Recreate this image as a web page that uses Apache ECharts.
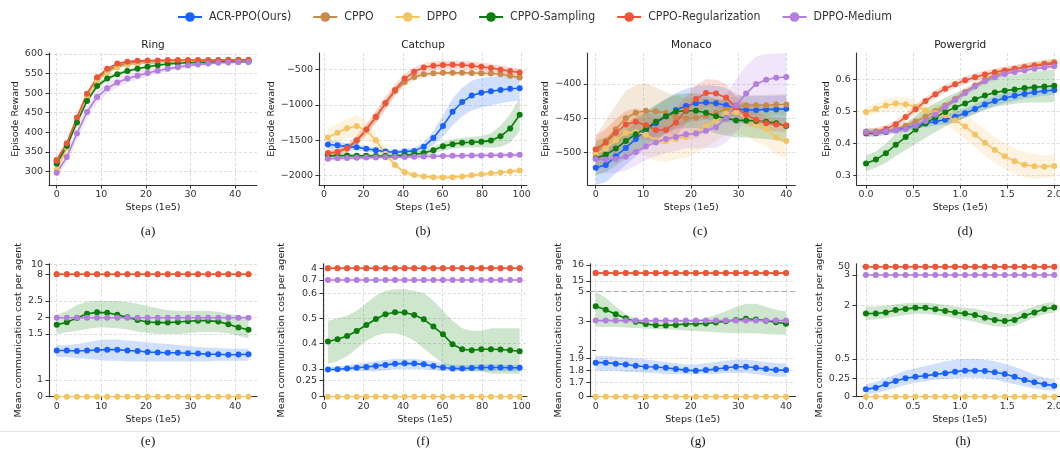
<!DOCTYPE html>
<html lang="en">
<head>
<meta charset="UTF-8" />
<title>Reward and communication cost</title>
<script src="https://cdn.jsdelivr.net/npm/echarts@6.0.0/dist/echarts.min.js"></script>
<style>html,body{margin:0;background:#fff}</style>
</head>
<body>
<div id="main" style="width:1060px;height:455px"></div>
<script>
// methods, in legend order
const methods = ['ACR-PPO(Ours)', 'CPPO', 'DPPO', 'CPPO-Sampling', 'CPPO-Regularization', 'DPPO-Medium'];
const colors = ['#1a62ff', '#c98a4b', '#f5c462', '#0b7d0b', '#ee5538', '#b47de0'];

// x steps (1e5)
const ringSteps = [0,2.26,4.53,6.79,9.05,11.32,13.58,15.84,18.11,20.37,22.63,24.89,27.16,29.42,31.68,33.95,36.21,38.47,40.74,43];
const catchupSteps = [2,6.85,11.7,16.55,21.4,26.25,31.1,35.95,40.8,45.65,50.5,55.35,60.2,65.05,69.9,74.75,79.6,84.45,89.3,94.15,99];
const monacoSteps = [0,2.11,4.21,6.32,8.42,10.53,12.63,14.74,16.84,18.95,21.05,23.16,25.26,27.37,29.47,31.58,33.68,35.79,37.89,40];
const powerSteps = [0,0.105,0.211,0.316,0.421,0.526,0.632,0.737,0.842,0.947,1.053,1.158,1.263,1.368,1.474,1.579,1.684,1.789,1.895,2];

// tick labels
const ringXTicks = [0, 10, 20, 30, 40];
const catchupXTicks = [0, 20, 40, 60, 80, 100];
const monacoXTicks = [0, 10, 20, 30, 40];
const powerXTicks = [0, 0.5, 1, 1.5, 2];
const ringYTicks = [300, 350, 400, 450, 500, 550, 600];
const catchupYTicks = [-2000, -1500, -1000, -500];
const monacoYTicks = [-500, -450, -400];
const powerYTicks = [0.3, 0.4, 0.5, 0.6];
// cost axes are uneven: [value, height in px above the x axis]
const costTicksRing = [[0,0],[1,16.7],[1.5,62.7],[2,79],[2.5,95.7],[8,122.4],[10,132.4]];
const costTicksCatchup = [[0,0],[0.25,16],[0.3,27.7],[0.4,53.4],[0.5,78.4],[0.6,103.4],[0.7,116.7],[4,128.4]];
const costTicksMonaco = [[0,0],[1.7,14],[1.8,26],[1.9,38.4],[2,46],[3,75],[5,105],[15,115.7],[16,131.7]];
const costTicksPower = [[0,0],[0.25,18.4],[0.5,37.7],[2,91],[3,121.7],[50,130]];

// Ring episode reward
const ringAcr = [325,368,432,495,535,555,568,573,575,577,578,579,580,580,581,581,581,582,582,582];
const ringCppo = [330,370,435,495,535,558,570,576,579,580,581,582,582,582,583,583,583,583,583,583];
const ringDppo = [305,360,430,492,530,552,565,572,575,577,578,579,579,580,580,580,581,581,581,581];
const ringSamp = [320,365,425,480,518,537,548,556,562,567,571,574,576,577,578,579,579,580,580,580];
const ringReg = [328,372,438,498,540,562,575,580,582,583,583,584,584,584,584,584,584,585,585,585];
const ringMed = [297,337,397,452,490,512,527,537,544,551,557,562,566,570,573,575,577,578,579,579];
const ringAcrBand = [8,6,5,5,4,3,3,2,2,2,2,2,2,2,2,2,2,2,2,2];
const ringCppoBand = [8,6,5,5,4,3,3,2,2,2,2,2,2,2,2,2,2,2,2,2];
const ringDppoBand = [10,8,6,5,4,3,3,2,2,2,2,2,2,2,2,2,2,2,2,2];
const ringSampBand = [8,8,8,8,7,6,5,5,4,4,3,3,3,3,2,2,2,2,2,2];
const ringRegBand = [8,6,5,5,4,3,3,2,2,2,2,2,2,2,2,2,2,2,2,2];
const ringMedBand = [12,14,16,16,15,14,12,11,10,9,8,7,6,5,5,4,4,4,3,3];

// Catchup episode reward
const catchupAcr = [-1560,-1570,-1590,-1600,-1620,-1640,-1660,-1670,-1660,-1650,-1590,-1470,-1300,-1100,-960,-870,-830,-810,-790,-775,-768];
const catchupCppo = [-1690,-1670,-1620,-1510,-1360,-1180,-985,-805,-680,-610,-570,-555,-550,-550,-550,-552,-555,-560,-570,-590,-615];
const catchupDppo = [-1460,-1395,-1330,-1300,-1360,-1500,-1690,-1850,-1950,-1990,-2010,-2020,-2025,-2020,-2010,-1995,-1980,-1965,-1955,-1940,-1925];
const catchupSamp = [-1720,-1718,-1715,-1718,-1720,-1722,-1722,-1718,-1712,-1700,-1680,-1640,-1585,-1555,-1535,-1528,-1520,-1505,-1445,-1335,-1140];
const catchupReg = [-1680,-1665,-1610,-1500,-1350,-1170,-975,-790,-630,-535,-475,-450,-440,-435,-440,-450,-465,-480,-505,-525,-545];
const catchupMed = [-1760,-1755,-1750,-1748,-1745,-1742,-1740,-1738,-1735,-1732,-1728,-1725,-1722,-1720,-1718,-1716,-1714,-1712,-1710,-1708,-1705];
const catchupAcrBand = [60,55,50,45,40,40,40,40,40,45,60,100,150,190,200,210,210,200,190,180,170];
const catchupCppoBand = [50,50,50,50,60,70,70,70,60,50,40,35,35,35,35,35,35,35,35,35,35];
const catchupDppoBand = [120,130,140,150,130,100,70,50,40,30,30,25,25,25,25,25,25,25,25,25,25];
const catchupSampBand = [30,30,30,30,30,30,30,30,30,35,40,50,60,65,70,75,80,100,150,200,230];
const catchupRegBand = [50,50,60,70,80,90,90,80,70,60,60,60,60,60,60,60,60,60,60,55,55];
const catchupMedBand = [30,30,30,30,30,30,30,30,30,30,30,30,30,30,30,30,30,30,30,30,30];

// Monaco episode reward
const monacoAcr = [-522,-518,-505,-493,-480,-467,-457,-447,-438,-432,-428,-427,-428,-431,-436,-438,-438,-437,-437,-436];
const monacoCppo = [-501,-483,-466,-450,-442,-439,-440,-442,-448,-450,-449,-446,-442,-437,-433,-431,-431,-431,-430,-430];
const monacoDppo = [-503,-494,-482,-471,-470,-474,-482,-483,-480,-477,-471,-462,-453,-443,-441,-450,-460,-466,-478,-483];
const monacoSamp = [-508,-503,-494,-483,-473,-465,-455,-447,-440,-439,-439,-442,-447,-450,-453,-453,-454,-455,-457,-461];
const monacoReg = [-495,-485,-471,-459,-455,-460,-467,-467,-456,-438,-422,-413,-414,-420,-434,-445,-452,-457,-459,-460];
const monacoMed = [-509,-510,-509,-506,-499,-491,-485,-480,-477,-473,-472,-468,-463,-450,-431,-414,-400,-394,-391,-390];
const monacoAcrBand = [25,25,25,25,25,25,25,25,25,25,25,25,25,25,20,20,20,20,20,20];
const monacoCppoBand = [25,30,35,40,40,40,35,30,30,30,30,25,20,15,15,15,15,15,15,15];
const monacoDppoBand = [20,25,30,30,30,30,30,30,30,30,30,30,30,30,30,25,25,25,25,25];
const monacoSampBand = [25,25,25,25,25,25,25,25,25,25,25,25,25,25,25,25,25,25,25,25];
const monacoRegBand = [20,20,20,20,20,20,20,20,20,20,20,20,20,20,15,15,12,10,10,10];
const monacoMedBand = [20,20,20,20,20,20,20,20,20,20,22,25,30,35,38,40,40,38,35,35];

// Powergrid episode reward
const powerAcr = [0.431,0.432,0.436,0.442,0.449,0.456,0.462,0.468,0.474,0.483,0.494,0.507,0.521,0.532,0.541,0.548,0.554,0.559,0.563,0.566];
const powerCppo = [0.435,0.434,0.438,0.445,0.455,0.468,0.483,0.500,0.518,0.538,0.560,0.580,0.598,0.612,0.622,0.630,0.637,0.643,0.648,0.652];
const powerDppo = [0.498,0.508,0.518,0.524,0.522,0.514,0.503,0.495,0.488,0.472,0.453,0.428,0.402,0.380,0.360,0.345,0.334,0.329,0.328,0.330];
const powerSamp = [0.338,0.350,0.370,0.396,0.420,0.443,0.463,0.481,0.498,0.512,0.524,0.537,0.549,0.558,0.564,0.568,0.572,0.575,0.577,0.579];
const powerReg = [0.435,0.437,0.445,0.460,0.482,0.506,0.532,0.553,0.570,0.584,0.596,0.606,0.614,0.621,0.627,0.632,0.637,0.641,0.645,0.648];
const powerMed = [0.437,0.436,0.438,0.440,0.445,0.455,0.470,0.490,0.513,0.535,0.557,0.577,0.593,0.606,0.616,0.622,0.627,0.632,0.636,0.640];
const powerAcrBand = [0.01,0.01,0.01,0.01,0.01,0.01,0.012,0.012,0.015,0.015,0.015,0.015,0.015,0.015,0.015,0.015,0.015,0.015,0.015,0.015];
const powerCppoBand = [0.012,0.012,0.012,0.012,0.012,0.012,0.012,0.012,0.012,0.012,0.012,0.012,0.012,0.012,0.012,0.012,0.012,0.012,0.012,0.012];
const powerDppoBand = [0.015,0.015,0.02,0.02,0.02,0.02,0.02,0.025,0.03,0.035,0.04,0.04,0.04,0.04,0.04,0.04,0.04,0.04,0.035,0.035];
const powerSampBand = [0.025,0.025,0.03,0.035,0.04,0.045,0.045,0.045,0.045,0.045,0.045,0.045,0.045,0.045,0.045,0.045,0.045,0.048,0.05,0.05];
const powerRegBand = [0.012,0.012,0.012,0.012,0.012,0.012,0.012,0.012,0.012,0.012,0.012,0.012,0.012,0.012,0.012,0.012,0.012,0.012,0.012,0.012];
const powerMedBand = [0.008,0.008,0.008,0.008,0.008,0.008,0.008,0.008,0.008,0.008,0.008,0.008,0.008,0.008,0.008,0.008,0.008,0.008,0.008,0.008];

// Ring communication cost
const costRingAcr = [1.32,1.32,1.315,1.32,1.325,1.33,1.33,1.32,1.315,1.305,1.30,1.297,1.297,1.29,1.287,1.28,1.28,1.275,1.277,1.28];
const costRingAcrLo = [1.25,1.25,1.24,1.23,1.22,1.21,1.21,1.2,1.2,1.2,1.2,1.2,1.2,1.2,1.2,1.2,1.21,1.21,1.21,1.21];
const costRingAcrHi = [1.38,1.38,1.39,1.41,1.43,1.44,1.44,1.43,1.42,1.41,1.4,1.39,1.38,1.37,1.36,1.35,1.35,1.34,1.34,1.34];
const costRingSamp = [1.78,1.86,1.99,2.12,2.16,2.15,2.09,2.01,1.93,1.87,1.85,1.85,1.87,1.89,1.91,1.91,1.88,1.80,1.70,1.63];
const costRingSampLo = [1.5,1.55,1.6,1.65,1.7,1.7,1.68,1.64,1.58,1.53,1.5,1.5,1.5,1.52,1.55,1.56,1.55,1.52,1.48,1.45];
const costRingSampHi = [2.08,2.2,2.38,2.48,2.52,2.52,2.5,2.47,2.42,2.35,2.28,2.22,2.2,2.2,2.2,2.2,2.18,2.12,2.06,2.02];
const costRingCppo = [8,8,8,8,8,8,8,8,8,8,8,8,8,8,8,8,8,8,8,8];
const costRingReg = [8,8,8,8,8,8,8,8,8,8,8,8,8,8,8,8,8,8,8,8];
const costRingMed = [2,2,2,2,2,2,2,2,2,2,2,2,2,2,2,2,2,2,2,2];
const costRingDppo = [0,0,0,0,0,0,0,0,0,0,0,0,0,0,0,0,0,0,0,0];

// Catchup communication cost
const costCatchupAcr = [0.298,0.299,0.302,0.305,0.308,0.312,0.316,0.320,0.322,0.321,0.318,0.312,0.306,0.302,0.302,0.304,0.306,0.306,0.306,0.305,0.305];
const costCatchupAcrLo = [0.29,0.29,0.29,0.29,0.29,0.29,0.295,0.3,0.3,0.3,0.3,0.295,0.29,0.29,0.29,0.29,0.29,0.29,0.29,0.29,0.29];
const costCatchupAcrHi = [0.305,0.31,0.315,0.32,0.325,0.33,0.335,0.34,0.34,0.34,0.335,0.33,0.322,0.317,0.315,0.317,0.318,0.318,0.318,0.317,0.317];
const costCatchupSamp = [0.407,0.416,0.429,0.449,0.473,0.497,0.516,0.524,0.523,0.513,0.496,0.467,0.436,0.396,0.377,0.373,0.377,0.377,0.376,0.373,0.369];
const costCatchupSampLo = [0.32,0.33,0.35,0.38,0.41,0.43,0.44,0.44,0.43,0.41,0.38,0.35,0.32,0.3,0.29,0.29,0.29,0.28,0.28,0.28,0.28];
const costCatchupSampHi = [0.49,0.5,0.51,0.53,0.56,0.59,0.62,0.63,0.63,0.62,0.6,0.57,0.53,0.49,0.46,0.45,0.45,0.46,0.46,0.46,0.46];
const costCatchupCppo = [4,4,4,4,4,4,4,4,4,4,4,4,4,4,4,4,4,4,4,4,4];
const costCatchupReg = [4,4,4,4,4,4,4,4,4,4,4,4,4,4,4,4,4,4,4,4,4];
const costCatchupMed = [0.7,0.7,0.7,0.7,0.7,0.7,0.7,0.7,0.7,0.7,0.7,0.7,0.7,0.7,0.7,0.7,0.7,0.7,0.7,0.7,0.7];
const costCatchupDppo = [0,0,0,0,0,0,0,0,0,0,0,0,0,0,0,0,0,0,0,0,0];

// Monaco communication cost
const costMonacoAcr = [1.865,1.865,1.857,1.85,1.84,1.832,1.83,1.824,1.814,1.805,1.80,1.805,1.814,1.824,1.832,1.832,1.824,1.814,1.805,1.805];
const costMonacoAcrLo = [1.80,1.80,1.80,1.79,1.79,1.78,1.78,1.77,1.77,1.77,1.77,1.77,1.77,1.78,1.78,1.78,1.77,1.76,1.75,1.75];
const costMonacoAcrHi = [1.93,1.93,1.92,1.91,1.9,1.89,1.88,1.87,1.86,1.85,1.85,1.86,1.87,1.88,1.89,1.89,1.88,1.87,1.86,1.86];
const costMonacoSamp = [4.03,3.80,3.50,3.23,3.0,2.92,2.88,2.87,2.89,2.92,2.93,2.94,2.97,3.03,3.12,3.2,3.15,3.07,2.98,2.93];
const costMonacoSampLo = [2.82,2.82,2.82,2.8,2.78,2.76,2.75,2.74,2.72,2.7,2.68,2.66,2.64,2.62,2.6,2.6,2.6,2.58,2.56,2.55];
const costMonacoSampHi = [5.0,4.6,4.0,3.5,3.2,3.1,3.05,3.05,3.08,3.12,3.15,3.25,3.45,3.7,4.0,4.2,4.2,4.0,3.8,3.7];
const costMonacoCppo = [15.5,15.5,15.5,15.5,15.5,15.5,15.5,15.5,15.5,15.5,15.5,15.5,15.5,15.5,15.5,15.5,15.5,15.5,15.5,15.5];
const costMonacoReg = [15.5,15.5,15.5,15.5,15.5,15.5,15.5,15.5,15.5,15.5,15.5,15.5,15.5,15.5,15.5,15.5,15.5,15.5,15.5,15.5];
const costMonacoMed = [3.08,3.08,3.08,3.08,3.08,3.08,3.08,3.08,3.08,3.08,3.08,3.08,3.08,3.08,3.08,3.08,3.08,3.08,3.08,3.08];
const costMonacoDppo = [0,0,0,0,0,0,0,0,0,0,0,0,0,0,0,0,0,0,0,0];

// Powergrid communication cost
const costPowerAcr = [0.10,0.123,0.168,0.214,0.25,0.27,0.284,0.301,0.315,0.336,0.349,0.349,0.345,0.328,0.306,0.27,0.227,0.195,0.168,0.15];
const costPowerAcrLo = [0.03,0.05,0.08,0.12,0.16,0.19,0.21,0.23,0.24,0.25,0.26,0.26,0.25,0.23,0.2,0.17,0.14,0.11,0.09,0.08];
const costPowerAcrHi = [0.17,0.2,0.25,0.3,0.35,0.38,0.41,0.44,0.47,0.49,0.5,0.5,0.49,0.47,0.44,0.4,0.35,0.3,0.26,0.23];
const costPowerSamp = [1.78,1.78,1.81,1.88,1.91,1.94,1.94,1.90,1.85,1.81,1.78,1.74,1.66,1.60,1.57,1.60,1.72,1.81,1.91,1.95];
const costPowerSampLo = [1.6,1.62,1.65,1.7,1.74,1.77,1.77,1.74,1.7,1.65,1.6,1.55,1.48,1.42,1.4,1.43,1.55,1.66,1.76,1.8];
const costPowerSampHi = [1.97,1.98,2.0,2.05,2.08,2.1,2.1,2.07,2.02,1.98,1.95,1.92,1.86,1.8,1.76,1.78,1.9,1.98,2.08,2.12];
const costPowerCppo = [50,50,50,50,50,50,50,50,50,50,50,50,50,50,50,50,50,50,50,50];
const costPowerReg = [50,50,50,50,50,50,50,50,50,50,50,50,50,50,50,50,50,50,50,50];
const costPowerMed = [3,3,3,3,3,3,3,3,3,3,3,3,3,3,3,3,3,3,3,3];
const costPowerDppo = [0,0,0,0,0,0,0,0,0,0,0,0,0,0,0,0,0,0,0,0];

// piecewise-linear map of a cost value onto the uneven axis
function warp(knots, v) {
  for (let i = 1; i < knots.length; i++) {
    if (v <= knots[i][0] || i === knots.length - 1) {
      const [v0, p0] = knots[i - 1], [v1, p1] = knots[i];
      return p0 + (v - v0) * (p1 - p0) / (v1 - v0);
    }
  }
}
const minus = v => String(v).replace('-', '\u2212');
const oneDec = v => v.toFixed(1);

const TOP = 53, TOPH = 132, BOT = 263.7, BOTH = 133;
const panels = [
  { box: [49, TOP, 208, TOPH], x: ringSteps, xr: [-1.73, 44.9], xt: ringXTicks, xf: String,
    yr: [266, 602], yt: ringYTicks, yf: String, gap: 28.5, title: 'Ring',
    means: [ringAcr, ringCppo, ringDppo, ringSamp, ringReg, ringMed],
    bands: [ringAcrBand, ringCppoBand, ringDppoBand, ringSampBand, ringRegBand, ringMedBand] },
  { box: [319, TOP, 208, TOPH], x: catchupSteps, xr: [-2.5, 102.7], xt: catchupXTicks, xf: String,
    yr: [-2131, -270], yt: catchupYTicks, yf: minus, gap: 42, title: 'Catchup',
    means: [catchupAcr, catchupCppo, catchupDppo, catchupSamp, catchupReg, catchupMed],
    bands: [catchupAcrBand, catchupCppoBand, catchupDppoBand, catchupSampBand, catchupRegBand, catchupMedBand] },
  { box: [587.3, TOP, 208, TOPH], x: monacoSteps, xr: [-1.77, 41.9], xt: monacoXTicks, xf: String,
    yr: [-547, -355], yt: monacoYTicks, yf: minus, gap: 36.5, title: 'Monaco',
    means: [monacoAcr, monacoCppo, monacoDppo, monacoSamp, monacoReg, monacoMed],
    bands: [monacoAcrBand, monacoCppoBand, monacoDppoBand, monacoSampBand, monacoRegBand, monacoMedBand] },
  { box: [856.7, TOP, 207, TOPH], x: powerSteps, xr: [-0.099, 2.1], xt: powerXTicks, xf: oneDec,
    yr: [0.271, 0.681], yt: powerYTicks, yf: oneDec, gap: 24.5, title: 'Powergrid',
    means: [powerAcr, powerCppo, powerDppo, powerSamp, powerReg, powerMed],
    bands: [powerAcrBand, powerCppoBand, powerDppoBand, powerSampBand, powerRegBand, powerMedBand] },
  { box: [49, BOT, 208, BOTH], x: ringSteps, xr: [-1.73, 44.9], xt: ringXTicks, xf: String,
    knots: costTicksRing, gap: 25,
    means: [costRingAcr, costRingCppo, costRingDppo, costRingSamp, costRingReg, costRingMed],
    lo: [costRingAcrLo, null, null, costRingSampLo, null, null],
    hi: [costRingAcrHi, null, null, costRingSampHi, null, null] },
  { box: [323, BOT, 204, BOTH], x: catchupSteps, xr: [-0.5, 102.7], xt: catchupXTicks, xf: String,
    knots: costTicksCatchup, gap: 36,
    means: [costCatchupAcr, costCatchupCppo, costCatchupDppo, costCatchupSamp, costCatchupReg, costCatchupMed],
    lo: [costCatchupAcrLo, null, null, costCatchupSampLo, null, null],
    hi: [costCatchupAcrHi, null, null, costCatchupSampHi, null, null] },
  { box: [590, BOT, 205.5, BOTH], x: monacoSteps, xr: [-1.2, 42], xt: monacoXTicks, xf: String,
    knots: costTicksMonaco, gap: 26.5, dashAt: 5,
    means: [costMonacoAcr, costMonacoCppo, costMonacoDppo, costMonacoSamp, costMonacoReg, costMonacoMed],
    lo: [costMonacoAcrLo, null, null, costMonacoSampLo, null, null],
    hi: [costMonacoAcrHi, null, null, costMonacoSampHi, null, null] },
  { box: [856, BOT, 207.7, BOTH], x: powerSteps, xr: [-0.105, 2.1], xt: powerXTicks, xf: oneDec,
    knots: costTicksPower, gap: 29.5,
    means: [costPowerAcr, costPowerCppo, costPowerDppo, costPowerSamp, costPowerReg, costPowerMed],
    lo: [costPowerAcrLo, null, null, costPowerSampLo, null, null],
    hi: [costPowerAcrHi, null, null, costPowerSampHi, null, null] }
];

const FONT = 'DejaVu Sans';
const axisCommon = {
  axisLine: { onZero: false, lineStyle: { color: '#333', width: 1.1 } },
  axisTick: { length: 3.5, lineStyle: { color: '#333', width: 1 } },
  splitLine: { show: true, lineStyle: { color: '#d6d6d6', type: [3, 2], width: 0.8 } },
  nameTextStyle: { color: '#222', fontFamily: FONT, fontSize: 9.5 }
};
const yLabelStyle = { hideOverlap: false, color: '#333', fontFamily: FONT, fontSize: 9.5, margin: 6 };

const grid = [], xAxis = [], yAxis = [], series = [], graphic = [];
const overlayAxes = [];

panels.forEach((p, k) => {
  const cost = !!p.knots;
  const ty = cost ? (v => warp(p.knots, v)) : (v => v);
  grid.push({ left: p.box[0], top: p.box[1], width: p.box[2], height: p.box[3], outerBoundsMode: 'none', containLabel: false });
  xAxis.push(Object.assign({}, axisCommon, {
    gridIndex: k, type: 'value', min: p.xr[0], max: p.xr[1],
    name: 'Steps (1e5)', nameLocation: 'middle', nameGap: 17.5,
    axisTick: Object.assign({}, axisCommon.axisTick, { customValues: p.xt }),
    axisLabel: { customValues: p.xt, formatter: p.xf, hideOverlap: false, color: '#333', fontFamily: FONT, fontSize: 9.5, margin: 5 }
  }));
  let yt, yf, yr, crowded = [];
  if (cost) {
    // labels packed closer than ~10px get their own overlay axis so none is dropped
    yt = [];
    p.knots.forEach((kn, i) => {
      if (i > 0 && kn[1] - p.knots[i - 1][1] < 10 && !crowded.includes(p.knots[i - 1][1])) crowded.push(kn[1]);
      else yt.push(kn[1]);
    });
    yf = v => { const kn = p.knots.find(q => Math.abs(q[1] - v) < 1e-6); return kn ? String(kn[0]) : ''; };
    yr = [0, BOTH];
  } else {
    yt = p.yt; yf = p.yf; yr = p.yr;
  }
  yAxis.push(Object.assign({}, axisCommon, {
    gridIndex: k, type: 'value', min: yr[0], max: yr[1],
    name: cost ? 'Mean communication cost per agent' : 'Episode Reward',
    nameLocation: 'middle', nameGap: p.gap,
    axisTick: Object.assign({}, axisCommon.axisTick, { customValues: yt }),
    axisLabel: Object.assign({ customValues: yt, formatter: yf }, yLabelStyle)
  }));
  if (crowded.length) {
    overlayAxes.push({
      gridIndex: k, type: 'value', min: yr[0], max: yr[1], position: 'left',
      axisLine: { show: false }, splitLine: { show: false },
      axisTick: Object.assign({}, axisCommon.axisTick, { customValues: crowded }),
      axisLabel: Object.assign({ customValues: crowded, formatter: yf }, yLabelStyle)
    });
  }

  // shaded bands, drawn as one polygon each through the axis scales
  p.means.forEach((m, s) => {
    let lo, hi;
    if (cost) {
      if (!p.lo[s]) return;
      lo = p.lo[s].map(ty); hi = p.hi[s].map(ty);
    } else {
      lo = m.map((v, i) => v - p.bands[s][i]); hi = m.map((v, i) => v + p.bands[s][i]);
    }
    series.push({
      type: 'custom', xAxisIndex: k, yAxisIndex: k, z: 1, silent: true, clip: true,
      data: p.x.map((x, i) => [x, lo[i], hi[i]]),
      encode: { x: 0, y: [1, 2] },
      renderItem: (params, api) => {
        if (params.dataIndex !== 0) return null;
        const up = p.x.map((x, i) => api.coord([x, hi[i]]));
        const dn = p.x.map((x, i) => api.coord([x, lo[i]])).reverse();
        return { type: 'polygon', shape: { points: up.concat(dn) },
          style: { fill: colors[s], opacity: 0.2 } };
      }
    });
  });

  // mean curves
  p.means.forEach((m, s) => {
    const ser = {
      name: methods[s], type: 'line', xAxisIndex: k, yAxisIndex: k, z: 3,
      data: p.x.map((x, i) => [x, ty(m[i])]),
      symbol: 'circle', symbolSize: 6, showSymbol: true,
      itemStyle: { color: colors[s] }, lineStyle: { color: colors[s], width: 1.6 }
    };
    if (p.dashAt !== undefined && s === 4) {
      ser.markLine = { silent: true, symbol: 'none', label: { show: false },
        lineStyle: { color: '#aaa', type: [5, 3], width: 1.2 },
        data: [{ yAxis: ty(p.dashAt) }] };
    }
    series.push(ser);
  });

  if (p.title) {
    graphic.push({ type: 'text', x: p.box[0] + p.box[2] / 2, y: 45,
      style: { text: p.title, font: '10.5px "DejaVu Sans"', fill: '#222', textAlign: 'center', textVerticalAlign: 'middle' } });
  }
});
yAxis.push(...overlayAxes);

const subLabels = [['(a)', 148, 232], ['(b)', 423, 232], ['(c)', 700, 232], ['(d)', 965, 232],
                   ['(e)', 148, 442], ['(f)', 423, 442], ['(g)', 698, 442], ['(h)', 963, 442]];
subLabels.forEach(([t, x, y]) => graphic.push({ type: 'text', x, y,
  style: { text: t, font: '13px "Liberation Serif"', fill: '#111', textAlign: 'center', textVerticalAlign: 'middle' } }));
graphic.push({ type: 'line', shape: { x1: 0, y1: 431.5, x2: 1060, y2: 431.5 }, style: { stroke: '#e2e2e2', lineWidth: 1 } });

const chart = echarts.init(document.getElementById('main'));
chart.setOption({
  animation: false,
  backgroundColor: '#fff',
  legend: {
    data: methods, top: 6, left: 172, itemGap: 21, itemWidth: 24, itemHeight: 12,
    textStyle: { fontFamily: '"Liberation Sans Narrow", "DejaVu Sans Condensed", sans-serif', fontSize: 12.2, color: '#333', padding: [0, 0, 0, 2] }
  },
  grid, xAxis, yAxis, series, graphic
});
</script>
</body>
</html>
